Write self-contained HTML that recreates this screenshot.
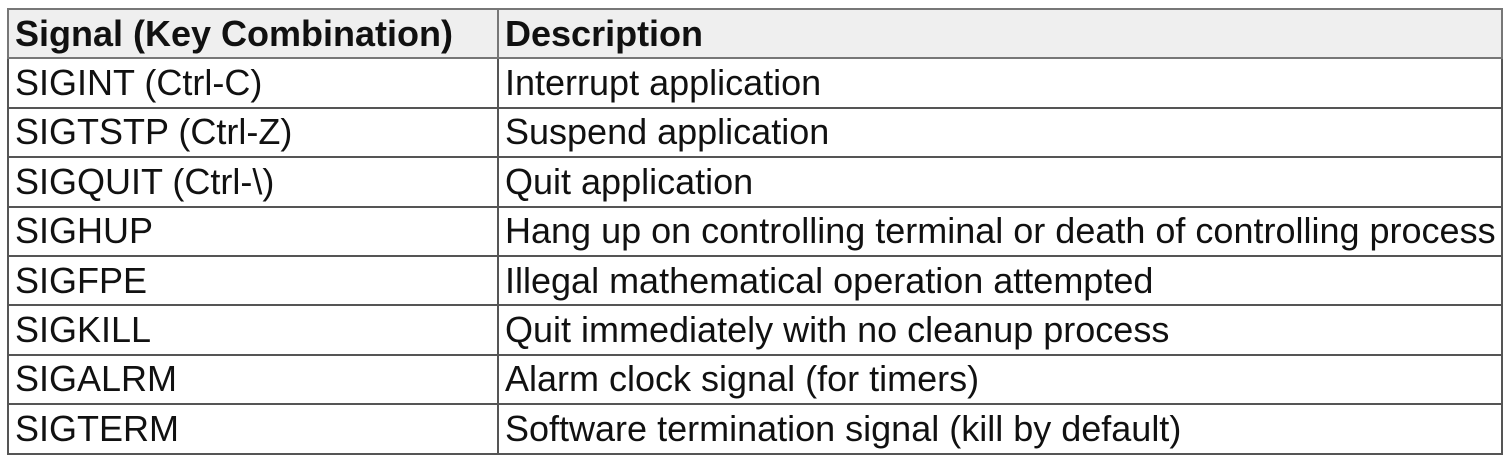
<!DOCTYPE html>
<html><head><style>
html,body{margin:0;padding:0;background:#fff;width:1511px;height:461px;overflow:hidden}
table{position:absolute;left:7px;top:8px;border-collapse:collapse;font-family:"Liberation Sans",Arial,sans-serif;font-size:36px;color:#111}
td{border:2px solid #555;height:47.4px;padding:0 0 0 6px;white-space:nowrap;vertical-align:middle;line-height:1}
tr.h td{background:#efefef;font-weight:bold;border-color:#777}
td.a{width:482px}
td.b{width:996px}
</style></head><body>
<table>
<tr class="h"><td class="a">Signal (Key Combination)</td><td class="b">Description</td></tr>
<tr><td>SIGINT (Ctrl-C)</td><td>Interrupt application</td></tr>
<tr><td>SIGTSTP (Ctrl-Z)</td><td>Suspend application</td></tr>
<tr><td>SIGQUIT (Ctrl-\)</td><td>Quit application</td></tr>
<tr><td>SIGHUP</td><td>Hang up on controlling terminal or death of controlling process</td></tr>
<tr><td>SIGFPE</td><td>Illegal mathematical operation attempted</td></tr>
<tr><td>SIGKILL</td><td>Quit immediately with no cleanup process</td></tr>
<tr><td>SIGALRM</td><td>Alarm clock signal (for timers)</td></tr>
<tr><td>SIGTERM</td><td>Software termination signal (kill by default)</td></tr>
</table>
</body></html>
